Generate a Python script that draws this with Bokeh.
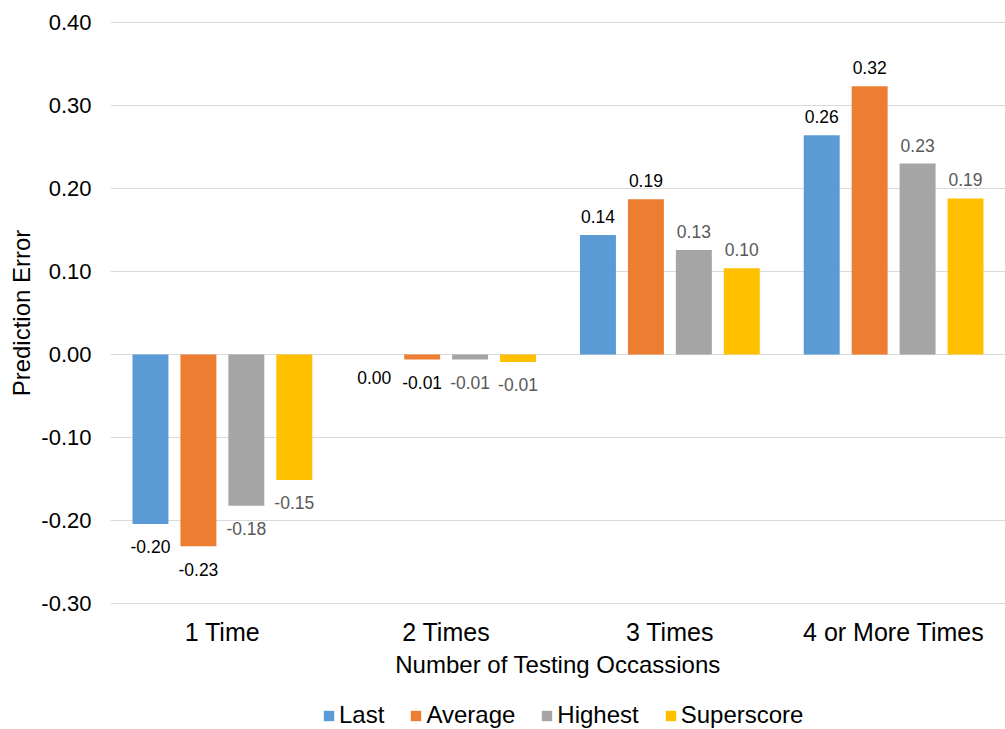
from bokeh.plotting import figure
from bokeh.models import (ColumnDataSource, FactorRange, Range1d, FixedTicker,
                          NumeralTickFormatter, Legend, LegendItem)
from bokeh.layouts import column
from bokeh.transform import dodge
from bokeh.core.properties import value
from bokeh.embed import file_html
from bokeh.resources import INLINE

categories = ["1 Time", "2 Times", "3 Times", "4 or More Times"]
series_names = ["Last", "Average", "Highest", "Superscore"]
last = [-0.204, 0.0, 0.144, 0.264]
average = [-0.231, -0.006, 0.187, 0.323]
highest = [-0.182, -0.006, 0.126, 0.230]
superscore = [-0.151, -0.009, 0.104, 0.188]
y_ticks = [-0.30, -0.20, -0.10, 0.00, 0.10, 0.20, 0.30, 0.40]

colors = ["#5B9BD5", "#ED7D31", "#A5A5A5", "#FFC000"]
label_colors = ["#000000", "#000000", "#595959", "#595959"]
offsets = [-0.3214, -0.1071, 0.1071, 0.3214]
bar_w = 0.1607
FONT = "Liberation Sans"

p = figure(x_range=FactorRange(*categories), y_range=Range1d(-0.301, 0.401),
           width=1005, height=680, output_backend="svg", toolbar_location=None,
           min_border_left=110, min_border_right=0, min_border_top=21,
           min_border_bottom=76)

for name, vals, col, lcol, off in zip(series_names, [last, average, highest, superscore],
                                      colors, label_colors, offsets):
    src = ColumnDataSource(dict(cat=categories, val=vals))
    p.vbar(x=dodge("cat", off, range=p.x_range), top="val", bottom=0, width=bar_w,
           source=src, fill_color=col, line_color=None)
    pos = [(c, v) for c, v in zip(categories, vals) if v > 0]
    neg = [(c, v) for c, v in zip(categories, vals) if v <= 0]
    for grp, base, yoff in [(pos, "bottom", -12), (neg, "top", 16.5)]:
        if not grp:
            continue
        s = ColumnDataSource(dict(cat=[g[0] for g in grp], val=[g[1] for g in grp],
                                  txt=["%.2f" % g[1] for g in grp]))
        p.text(x=dodge("cat", off, range=p.x_range), y="val", text="txt", source=s,
               text_align="center", text_baseline=base, y_offset=yoff,
               text_font=value(FONT), text_font_size="17.5px", text_color=lcol)

p.yaxis.ticker = FixedTicker(ticks=y_ticks)
p.ygrid.ticker = FixedTicker(ticks=y_ticks)
p.yaxis.formatter = NumeralTickFormatter(format="0.00")
p.ygrid.grid_line_color = "#d9d9d9"
p.ygrid.grid_line_width = 1
p.xgrid.grid_line_color = None
p.outline_line_color = None

for ax in [p.xaxis[0], p.yaxis[0]]:
    ax.axis_line_color = None
    ax.major_tick_line_color = None
    ax.minor_tick_line_color = None
    ax.major_label_text_font = FONT
    ax.major_label_text_color = "#000000"
    ax.axis_label_text_font = FONT
    ax.axis_label_text_font_style = "normal"
    ax.axis_label_text_color = "#000000"
    ax.axis_label_text_font_size = "24px"

p.yaxis.major_label_text_font_size = "22px"
p.yaxis.major_label_standoff = 13
p.yaxis.axis_label = "Prediction Error"
p.yaxis.axis_label_standoff = 3

p.xaxis.major_label_text_font_size = "25px"
p.xaxis.major_label_standoff = 7
p.xaxis.axis_label = "Number of Testing Occassions"
p.xaxis.axis_label_standoff = 2

# legend strip
pl = figure(width=1005, height=49, output_backend="svg", toolbar_location=None,
            min_border=0, x_range=Range1d(0, 1), y_range=Range1d(0, 1))
pl.axis.visible = False
pl.grid.visible = False
pl.outline_line_color = None
items = []
for name, col in zip(series_names, colors):
    src = ColumnDataSource(dict(x=[-10.0], top=[-10.0]))
    r = pl.vbar(x="x", top="top", bottom=-11.0, width=0.1, source=src,
                fill_color=col, line_color=None)
    items.append(LegendItem(label=name, renderers=[r]))
legend = Legend(items=items, orientation="horizontal", location=(212, 0),
                glyph_width=13, glyph_height=13, label_standoff=4, spacing=25,
                padding=0, margin=0, border_line_color=None, background_fill_alpha=0,
                label_text_font=FONT, label_text_font_size="24px", label_text_color="#000000")
pl.add_layout(legend, "center")

open("out.html", "w").write(file_html(column(p, pl, spacing=0), INLINE))
